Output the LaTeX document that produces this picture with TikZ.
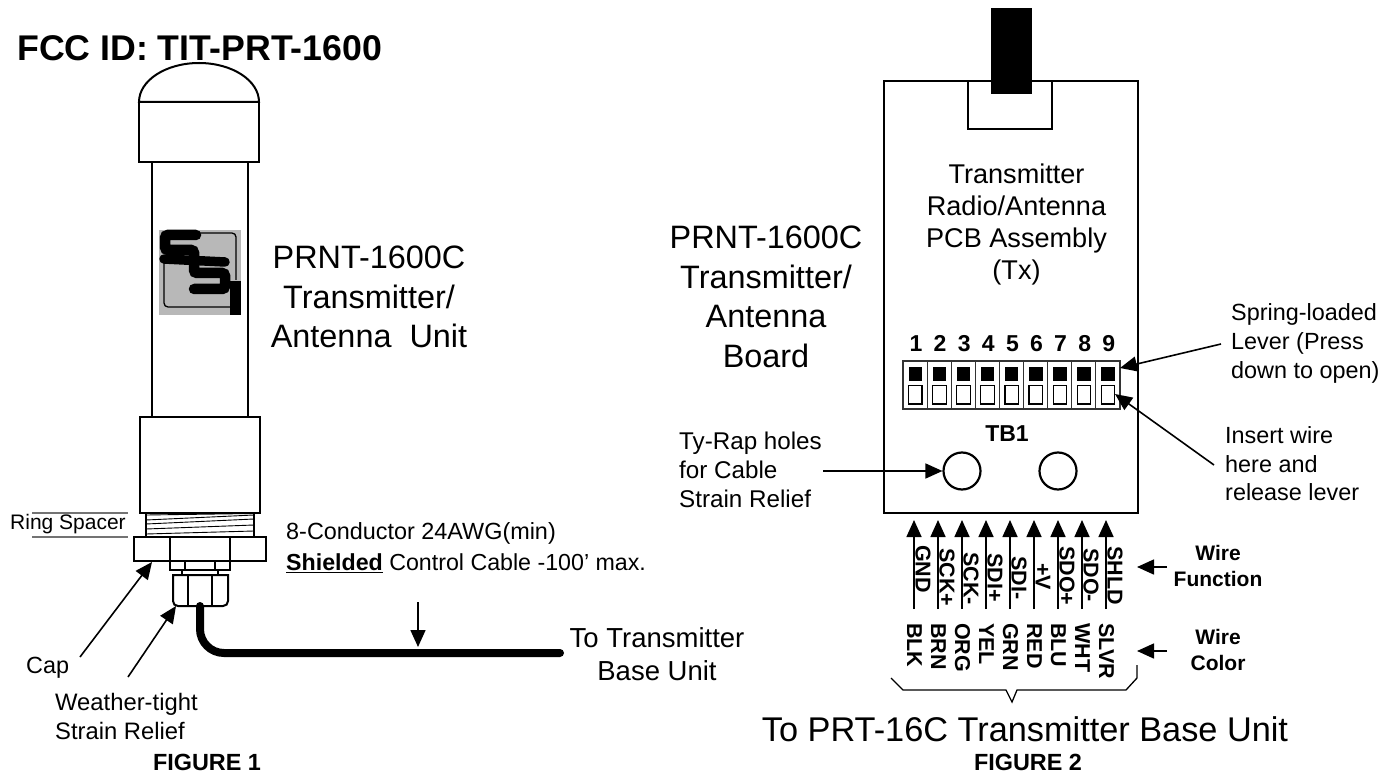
\documentclass[tikz,border=0pt]{standalone}
\usepackage{fontspec}
\setmainfont{Liberation Sans}
\usetikzlibrary{arrows.meta}
\tikzset{
	outline/.style={draw,line width=2pt,fill=white},
	tip/.style={-{Triangle[length=17pt,width=15pt]}},
	callout/.style={line width=1.6pt,tip},
	big/.style={align=center,font=\fontsize{32.4}{39.5}\selectfont},
	mid/.style={align=center,font=\fontsize{27.5}{33}\selectfont},
	small/.style={anchor=west,align=left,inner sep=0pt,font=\fontsize{23.4}{29}\selectfont},
	pin/.style={anchor=base,font=\bfseries\fontsize{23}{23}\selectfont},
	wirelabel/.style={rotate=-90,anchor=west,inner sep=0pt,font=\bfseries\fontsize{21.5}{21}\selectfont},
	side/.style={align=center,font=\bfseries\fontsize{21}{26}\selectfont},
	figlabel/.style={inner sep=0pt,font=\bfseries\fontsize{23.4}{24}\selectfont},
}
\begin{document}
\begin{tikzpicture}[x=1pt,y=-1pt]
	\useasboundingbox (0,0) rectangle (1396,775);

	\node[anchor=west,inner sep=0pt,font=\bfseries\fontsize{35.7}{36}\selectfont] (fcc) at (17,48) {FCC ID: TIT-PRT-1600};

	% antenna unit
	\draw[outline] (152,162) rectangle (248,417);
	\draw[outline] (139,102) arc[start angle=180,end angle=360,x radius=60,y radius=39] -- cycle;
	\draw[outline] (139,102) rectangle (259,162);
	\draw[outline] (140,417) rectangle (260,513);
	\draw[outline] (146,513) rectangle (254,537);
	\foreach \ya/\yb in {515/513.5,520/515,524/519,529/525,534/531} {
		\draw[line width=.9pt] (146,\ya) -- (254,\yb);
	}
	\draw[outline] (134,537) rectangle (266,561);
	\draw[outline] (170,537) rectangle (230,561);
	\draw[outline] (170,561) rectangle (230,570);
	\draw[line width=1.6pt] (185,561) -- (185,570) (215,561) -- (215,570);
	\draw[outline] (182,570) rectangle (218,575);
	\draw[outline] (173,575) -- (228,575) -- (228,601) .. controls (228,604) and (226,606) .. (223,606) -- (178,606) .. controls (175,606) and (173,604) .. (173,601) -- cycle;
	\draw[line width=1.6pt] (188,575) -- (188,606) (212,575) -- (212,606);

	% logo
	\fill[black!28] (159,230) rectangle (241,315);
	\draw[line width=1.3pt,rounded corners=4pt] (198,233) -- (236,233) -- (236,280);
	\draw[line width=1.3pt,rounded corners=4pt] (164,262) -- (164,307) -- (232,307);
	\draw[line width=10.5pt,line cap=round,rounded corners=3pt] (196,235) -- (165,235) -- (165,250) -- (194,250) -- (194,258);
	\draw[line width=9.5pt,line cap=round] (164,259) -- (225,262);
	\draw[line width=10.5pt,line cap=round,rounded corners=3pt] (194,260) -- (194,273) -- (225,273) -- (225,289) -- (194,289);
	\fill (230,281) rectangle (241,315);

	\node[big] (unit) at (369,297) {PRNT-1600C\\Transmitter/\\Antenna~~Unit};

	% ring spacer
	\draw[black!55,line width=1.2pt] (32,513) -- (128,513) (32,537) -- (128,537);
	\node[anchor=west,inner sep=0pt,font=\fontsize{21}{21}\selectfont] (spacer) at (10,524) {Ring Spacer};

	% cable
	\node[small] (cond) at (286,533) {8-Conductor 24AWG(min)};
	\node[small,font=\fontsize{23.2}{29}\selectfont] (ctrl) at (286,563) {\underline{\textbf{Shielded}} Control Cable -100' max.};
	\coordinate (cabletop) at (200,606);
	\coordinate (cableend) at (560,653);
	\draw[line width=8pt,line cap=round,rounded corners=24pt] (cabletop) -- (200,653) -- (cableend);
	\coordinate (drop) at (418,602);
	\coordinate (dropend) at (418,647);
	\draw[callout] (drop) -- (dropend);
	\node[mid] (tobase) at (657,654) {To Transmitter\\Base Unit};

	\node[small] (cap) at (26,668) {Cap};
	\coordinate (captail) at (80,657);
	\coordinate (capend) at (152,562);
	\draw[callout] (captail) -- (capend);
	\node[small,font=\fontsize{23.8}{29}\selectfont] (gland) at (55,716.5) {Weather-tight\\Strain Relief};
	\coordinate (glandtail) at (128,677);
	\coordinate (glandend) at (176,606);
	\draw[callout] (glandtail) -- (glandend);
	\node[figlabel] (fig1) at (207,762) {FIGURE 1};

	% board
	\draw[outline] (884,81) rectangle (1138,513);
	\draw[line width=1.6pt] (968,81) rectangle (1052,129);
	\fill (991,8) rectangle (1032,94);
	\node[big] (board) at (766,297) {PRNT-1600C\\Transmitter/\\Antenna\\Board};
	\node[mid,font=\fontsize{27.1}{32.3}\selectfont] (pcb) at (1016.5,224.5) {Transmitter\\Radio/Antenna\\PCB Assembly\\(Tx)};

	% terminal block
	\foreach \n in {1,...,9} {
		\pgfmathsetmacro{\cx}{903+24.1*(\n-1)}
		\draw[line width=1.2pt,draw=black!80] (\cx,361) rectangle ++(24.1,48);
		\fill (\cx+5.5,367) rectangle ++(13.5,14);
		\draw[line width=1.2pt] (\cx+5.5,385.5) rectangle ++(13.5,18.5);
		\node[pin] (pin\n) at (\cx+13,351) {\n};
	}
	\coordinate (levertip) at (1120,368);
	\coordinate (inserttip) at (1115,394);
	\node[pin] (tb) at (1007,441) {TB1};
	\node[circle,draw,line width=2.2pt,minimum size=37pt,inner sep=0pt] (holea) at (962,471) {};
	\node[circle,draw,line width=2.2pt,minimum size=37pt,inner sep=0pt] (holeb) at (1058,471) {};

	\node[small] (lever) at (1231,343) {Spring-loaded\\Lever (Press\\down to open)};
	\node[small,font=\fontsize{23.4}{28.5}\selectfont] (insert) at (1225,464) {Insert wire\\here and\\release lever};
	\node[small,font=\fontsize{24.2}{29}\selectfont] (tyrap) at (679,470) {Ty-Rap holes\\for Cable\\Strain Relief};
	\coordinate (levertail) at (1221,344);
	\coordinate (inserttail) at (1214,465);
	\coordinate (holetail) at (823,471);
	\draw[callout] (levertail) -- (levertip);
	\draw[callout] (inserttail) -- (inserttip);
	\draw[callout] (holetail) -- (holea);

	% wires
	\foreach \x/\fn/\ytop/\col [count=\i] in {914/GND/545/BLK,938/SCK+/548/BRN,962/SCK-/552/ORG,986/SDI+/553/YEL,1010/SDI-/556/GRN,1034/+V/563/RED,1058/SDO+/546/BLU,1082/SDO-/548/WHT,1106/SHLD/546/SLVR} {
		\coordinate (wirea\i) at (\x,609);
		\coordinate (wireb\i) at (\x,520);
		\draw[callout] (wirea\i) -- (wireb\i);
		\node[wirelabel] (fn\i) at (\x+9,\ytop) {\fn};
		\node[wirelabel] (col\i) at (\x+.5,623) {\col};
	}
	\coordinate (funtail) at (1167,567);
	\coordinate (funend) at (1137,567);
	\coordinate (coltail) at (1167,651);
	\coordinate (colend) at (1137,651);
	\draw[callout] (funtail) -- (funend);
	\draw[callout] (coltail) -- (colend);
	\node[side] (fun) at (1218,566) {Wire\\Function};
	\node[side] (wcol) at (1218,650) {Wire\\Color};

	% brace
	\draw[line width=1.3pt] (891,678) -- (903,690) -- (1006,690) -- (1012,702) -- (1017,690) -- (1126,690) -- (1137,678) -- (1137,665);
	\node[inner sep=0pt,font=\fontsize{34.3}{35}\selectfont] (base) at (1025,729) {To PRT-16C Transmitter Base Unit};
	\node[figlabel] (fig2) at (1028,762) {FIGURE 2};
\end{tikzpicture}
\end{document}
